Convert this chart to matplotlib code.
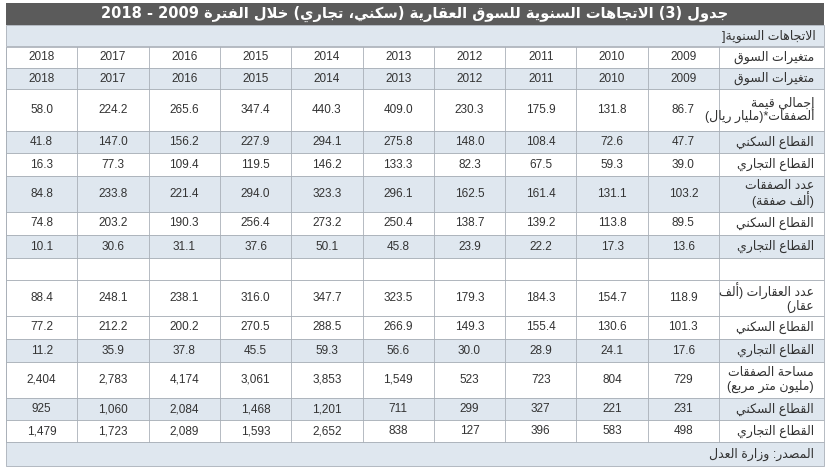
import matplotlib
matplotlib.use("Agg")
import matplotlib.pyplot as plt
from matplotlib.patches import Rectangle

# ---------------- data ----------------
years = [2009, 2010, 2011, 2012, 2013, 2014, 2015, 2016, 2017, 2018]
title = "جدول (3) الاتجاهات السنوية للسوق العقارية (سكني، تجاري) خلال الفترة 2009 - 2018"
subtitle = "الاتجاهات السنوية]"
header_label = "متغيرات السوق"
source = "المصدر: وزارة العدل"

row_labels = [
    "إجمالي قيمة\nالصفقات*(مليار ريال)", "القطاع السكني", "القطاع التجاري",
    "عدد الصفقات\n(ألف صفقة)", "القطاع السكني", "القطاع التجاري",
    "",
    "عدد العقارات (ألف\nعقار)", "القطاع السكني", "القطاع التجاري",
    "مساحة الصفقات\n(مليون متر مربع)", "القطاع السكني", "القطاع التجاري",
]
total_value = ["86.7", "131.8", "175.9", "230.3", "409.0", "440.3", "347.4", "265.6", "224.2", "58.0"]
value_res = ["47.7", "72.6", "108.4", "148.0", "275.8", "294.1", "227.9", "156.2", "147.0", "41.8"]
value_com = ["39.0", "59.3", "67.5", "82.3", "133.3", "146.2", "119.5", "109.4", "77.3", "16.3"]
deals = ["103.2", "131.1", "161.4", "162.5", "296.1", "323.3", "294.0", "221.4", "233.8", "84.8"]
deals_res = ["89.5", "113.8", "139.2", "138.7", "250.4", "273.2", "256.4", "190.3", "203.2", "74.8"]
deals_com = ["13.6", "17.3", "22.2", "23.9", "45.8", "50.1", "37.6", "31.1", "30.6", "10.1"]
blank = [""] * 10
props = ["118.9", "154.7", "184.3", "179.3", "323.5", "347.7", "316.0", "238.1", "248.1", "88.4"]
props_res = ["101.3", "130.6", "155.4", "149.3", "266.9", "288.5", "270.5", "200.2", "212.2", "77.2"]
props_com = ["17.6", "24.1", "28.9", "30.0", "56.6", "59.3", "45.5", "37.8", "35.9", "11.2"]
area = ["729", "804", "723", "523", "1,549", "3,853", "3,061", "4,174", "2,783", "2,404"]
area_res = ["231", "221", "327", "299", "711", "1,201", "1,468", "2,084", "1,060", "925"]
area_com = ["498", "583", "396", "127", "838", "2,652", "1,593", "2,089", "1,723", "1,479"]
row_values = [total_value, value_res, value_com, deals, deals_res, deals_com, blank,
              props, props_res, props_com, area, area_res, area_com]

# ---------------- minimal Arabic shaping ----------------
FORMS = {  # iso, fin, ini, med
    'ا': (0xFE8D, 0xFE8E), 'أ': (0xFE83, 0xFE84), 'إ': (0xFE87, 0xFE88), 'آ': (0xFE81, 0xFE82),
    'ة': (0xFE93, 0xFE94), 'د': (0xFEA9, 0xFEAA), 'ذ': (0xFEAB, 0xFEAC), 'ر': (0xFEAD, 0xFEAE),
    'ز': (0xFEAF, 0xFEB0), 'و': (0xFEED, 0xFEEE), 'ى': (0xFEEF, 0xFEF0), 'ء': (0xFE80,),
}
for ch, base in [('ب', 0xFE8F), ('ت', 0xFE95), ('ث', 0xFE99), ('ج', 0xFE9D), ('ح', 0xFEA1),
                 ('خ', 0xFEA5), ('س', 0xFEB1), ('ش', 0xFEB5), ('ص', 0xFEB9), ('ض', 0xFEBD),
                 ('ط', 0xFEC1), ('ظ', 0xFEC5), ('ع', 0xFEC9), ('غ', 0xFECD), ('ف', 0xFED1),
                 ('ق', 0xFED5), ('ك', 0xFED9), ('ل', 0xFEDD), ('م', 0xFEE1), ('ن', 0xFEE5),
                 ('ه', 0xFEE9), ('ي', 0xFEF1)]:
    FORMS[ch] = (base, base + 1, base + 2, base + 3)
LAMALEF = {'ا': (0xFEFB, 0xFEFC), 'أ': (0xFEF7, 0xFEF8), 'إ': (0xFEF9, 0xFEFA), 'آ': (0xFEF5, 0xFEF6)}


def shape(s):
    units = []
    i = 0
    while i < len(s):
        if s[i] == 'ل' and i + 1 < len(s) and s[i + 1] in LAMALEF:
            units.append(('LA', s[i + 1]))
            i += 2
        else:
            units.append(('C', s[i]))
            i += 1

    def dual(u):
        return u[0] == 'C' and u[1] in FORMS and len(FORMS[u[1]]) == 4

    def joins_right(u):
        return u[0] == 'LA' or (u[1] in FORMS and len(FORMS[u[1]]) >= 2)

    out = []
    for k, u in enumerate(units):
        prev = units[k - 1] if k > 0 else None
        nxt = units[k + 1] if k + 1 < len(units) else None
        jp = prev is not None and dual(prev) and joins_right(u)
        if u[0] == 'LA':
            out.append(chr(LAMALEF[u[1]][1 if jp else 0]))
            continue
        c = u[1]
        if c not in FORMS:
            out.append(c)
            continue
        f = FORMS[c]
        jn = dual(u) and nxt is not None and joins_right(nxt)
        if len(f) == 1:
            out.append(chr(f[0]))
        elif len(f) == 2:
            out.append(chr(f[1] if jp else f[0]))
        else:
            if jp and jn:
                out.append(chr(f[3]))
            elif jp:
                out.append(chr(f[1]))
            elif jn:
                out.append(chr(f[2]))
            else:
                out.append(chr(f[0]))
    return ''.join(out)


def rtl(s):
    lines = []
    for line in s.split('\n'):
        t = shape(line)
        tokens = []
        i = 0
        while i < len(t):
            if t[i].isdigit():
                j = i
                while j < len(t) and (t[j].isdigit() or (t[j] in '.,' and j + 1 < len(t) and t[j + 1].isdigit())):
                    j += 1
                tokens.append(t[i:j])
                i = j
            else:
                c = t[i]
                c = {'(': ')', ')': '('}.get(c, c)
                tokens.append(c)
                i += 1
        lines.append(''.join(reversed(tokens)))
    return '\n'.join(lines)


# ---------------- drawing ----------------
plt.rcParams['font.family'] = ['Liberation Sans', 'DejaVu Sans']
fig = plt.figure(figsize=(8.3, 4.7), dpi=100)
ax = fig.add_axes([0, 0, 1, 1])
ax.set_xlim(0, 830)
ax.set_ylim(470, 0)
ax.axis('off')

L, R = 6, 824
label_left = 719
ncol = len(years)
colw = (label_left - L) / ncol
shade = '#dfe7ef'
line_c = '#a9b0b8'
txt_c = '#333333'

# title
ax.add_patch(Rectangle((L, 3), R - L, 22, facecolor='#5b5b5b', edgecolor='none'))
ax.text((L + R) / 2, 14, rtl(title), color='white', fontsize=10.5, fontweight='bold',
        ha='center', va='center', family=['DejaVu Sans'])
# subtitle
ax.add_patch(Rectangle((L, 25), R - L, 21, facecolor=shade, edgecolor=line_c, lw=0.6))
ax.text(R - 8, 36, rtl(subtitle), fontsize=9, ha='right', va='center', color=txt_c)

rows = [(header_label, [str(y) for y in years], 21, False),
        (header_label, [str(y) for y in years], 21, True)]
heights = [42, 22, 23, 36, 23, 23, 22, 36, 23, 23, 36, 22, 22]
shades = [False, True, False, True, False, True, False, False, False, True, False, True, False]
for lab, vals, h, sh in zip(row_labels, row_values, heights, shades):
    rows.append((lab, vals, h, sh))

y = 47
for lab, vals, h, sh in rows:
    fc = shade if sh else 'white'
    ax.add_patch(Rectangle((L, y), R - L, h, facecolor=fc, edgecolor=line_c, lw=0.6))
    for k in range(ncol + 1):
        x = L + k * colw
        ax.plot([x, x], [y, y + h], color=line_c, lw=0.6)
    ax.text(R - 10, y + h / 2, rtl(lab), fontsize=9, ha='right', va='center', color=txt_c,
            linespacing=1.0)
    for j, v in enumerate(vals):
        col = ncol - 1 - j  # 2009 rightmost
        ax.text(L + (col + 0.5) * colw, y + h / 2, v, fontsize=8.5, ha='center', va='center',
                color=txt_c)
    y += h

ax.add_patch(Rectangle((L, y), R - L, 466 - y, facecolor=shade, edgecolor=line_c, lw=0.6))
ax.text(R - 10, (y + 466) / 2, rtl(source), fontsize=9, ha='right', va='center', color=txt_c)

fig.savefig('out.png', dpi=100, facecolor='white')
